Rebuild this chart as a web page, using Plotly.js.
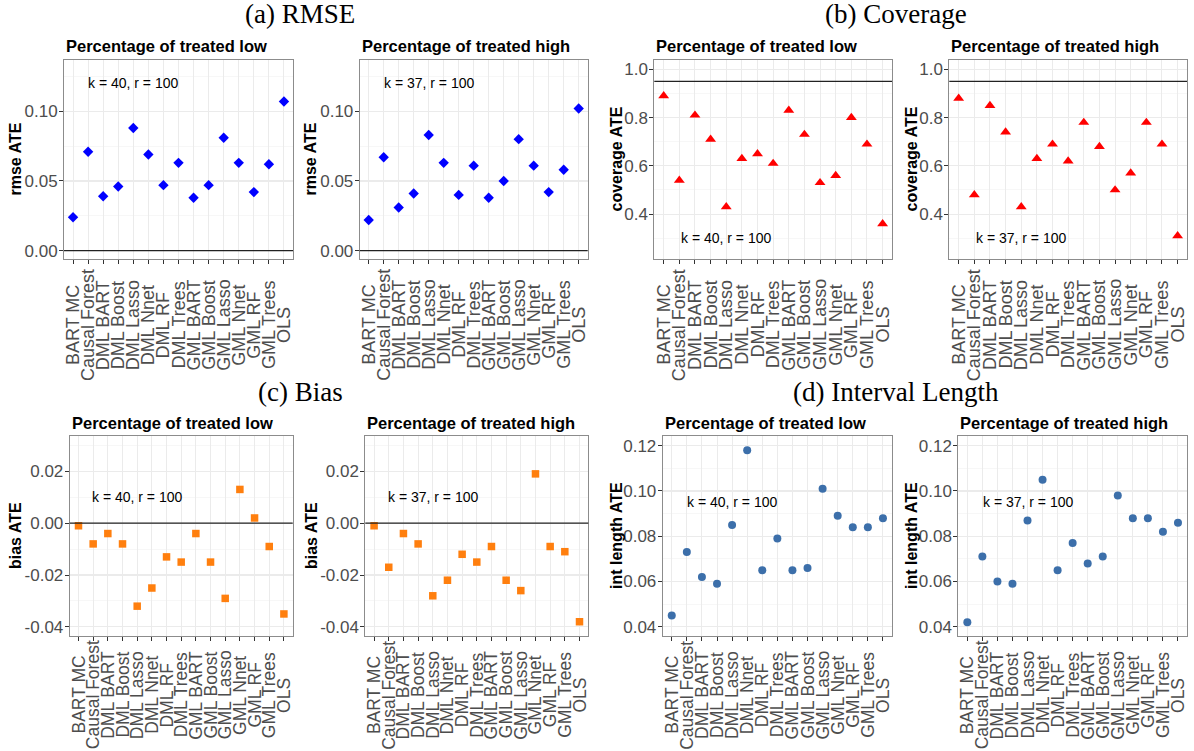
<!DOCTYPE html>
<html><head><meta charset="utf-8">
<script src="https://cdn.plot.ly/plotly-3.0.1.min.js"></script>
<style>html,body{margin:0;padding:0;background:#fff}#chart{width:1194px;height:751px}</style>
</head><body><div id="chart"></div>
<script>
// ---------------- data ----------------
const methods = ["BART MC","Causal Forest","DML BART","DML Boost","DML Lasso","DML Nnet","DML RF","DML Trees","GML BART","GML Boost","GML Lasso","GML Nnet","GML RF","GML Trees","OLS"];

const rmseLow      = [0.024,0.071,0.039,0.046,0.088,0.069,0.047,0.063,0.038,0.047,0.081,0.063,0.042,0.062,0.107];
const rmseHigh     = [0.022,0.067,0.031,0.041,0.083,0.063,0.040,0.061,0.038,0.050,0.080,0.061,0.042,0.058,0.102];
const coverageLow  = [0.89,0.54,0.81,0.71,0.43,0.63,0.65,0.61,0.83,0.73,0.53,0.56,0.80,0.69,0.36];
const coverageHigh = [0.88,0.48,0.85,0.74,0.43,0.63,0.69,0.62,0.78,0.68,0.50,0.57,0.78,0.69,0.31];
const biasLow      = [-0.001,-0.008,-0.004,-0.008,-0.032,-0.025,-0.013,-0.015,-0.004,-0.015,-0.029,0.013,0.002,-0.009,-0.035];
const biasHigh     = [-0.001,-0.017,-0.004,-0.008,-0.028,-0.022,-0.012,-0.015,-0.009,-0.022,-0.026,0.019,-0.009,-0.011,-0.038];
const intLenLow    = [0.045,0.073,0.062,0.059,0.085,0.118,0.065,0.079,0.065,0.066,0.101,0.089,0.084,0.084,0.088];
const intLenHigh   = [0.042,0.071,0.060,0.059,0.087,0.105,0.065,0.077,0.068,0.071,0.098,0.088,0.088,0.082,0.086];

const rmseTickVals = [0, 0.05, 0.10];
const rmseTickText = ["0.00","0.05","0.10"];
const rmseMinor    = [0.025, 0.075, 0.125];
const covTickVals  = [0.4, 0.6, 0.8, 1.0];
const covTickText  = ["0.4","0.6","0.8","1.0"];
const covMinor     = [0.3, 0.5, 0.7, 0.9];
const biasTickVals = [-0.04, -0.02, 0, 0.02];
const biasTickText = ["-0.04","-0.02","0.00","0.02"];
const biasMinor    = [-0.03, -0.01, 0.01, 0.03];
const intTickVals  = [0.04, 0.06, 0.08, 0.10, 0.12];
const intTickText  = ["0.04","0.06","0.08","0.10","0.12"];
const intMinor     = [0.05, 0.07, 0.09, 0.11];

const subTitles = ["Percentage of treated low","Percentage of treated high"];
const sectionTitles = ["(a) RMSE","(b) Coverage","(c) Bias","(d) Interval Length"];
const axisTitles = ["rmse ATE","coverage ATE","bias ATE","int length ATE"];
const kLow = "k = 40, r = 100";
const kHigh = "k = 37, r = 100";
const refLines = {rmse: 0, coverage: 0.95, bias: 0};

// ---------------- layout helpers ----------------
const W = 1194, H = 751;
const px = x => x / W;
const py = y => 1 - y / H;
const sans = "Liberation Sans, Arial, Helvetica, sans-serif";

const panels = [
  {vals: rmseLow,     box:[64,293,60,259],      lc:325, lf:18,   yr:[-0.006,0.1368], tv:rmseTickVals, tt:rmseTickText, mn:rmseMinor, at:axisTitles[0], atx:15,  sym:"diamond",     col:"#0000FF", sz:8,   lbl:kLow,  ly:0.12,  hl:refLines.rmse, st:subTitles[0]},
  {vals: rmseHigh,    box:[359.7,587.7,60,259], lc:325, lf:18,   yr:[-0.006,0.1368], tv:rmseTickVals, tt:rmseTickText, mn:rmseMinor, at:axisTitles[0], atx:310, sym:"diamond",     col:"#0000FF", sz:8,   lbl:kHigh, ly:0.12,  hl:refLines.rmse, st:subTitles[1]},
  {vals: coverageLow, box:[654.3,892,60,259],   lc:325, lf:18,   yr:[0.214,1.0386],  tv:covTickVals,  tt:covTickText,  mn:covMinor,  at:axisTitles[1], atx:616, sym:"triangle-up", col:"#FF0000", sz:9.5, lbl:kLow,  ly:0.3,   hl:refLines.coverage, st:subTitles[0]},
  {vals: coverageHigh,box:[949.3,1187,60,259],  lc:325, lf:18,   yr:[0.214,1.0386],  tv:covTickVals,  tt:covTickText,  mn:covMinor,  at:axisTitles[1], atx:911, sym:"triangle-up", col:"#FF0000", sz:9.5, lbl:kHigh, ly:0.3,   hl:refLines.coverage, st:subTitles[1]},
  {vals: biasLow,     box:[69.7,292.7,436,636], lc:695, lf:17.5, yr:[-0.0435,0.0336],tv:biasTickVals, tt:biasTickText, mn:biasMinor, at:axisTitles[2], atx:15,  sym:"square",      col:"#FF7F0E", sz:7.5, lbl:kLow,  ly:0.01,  hl:refLines.bias, st:subTitles[0]},
  {vals: biasHigh,    box:[365.3,588.3,436,636],lc:695, lf:17.5, yr:[-0.0435,0.0336],tv:biasTickVals, tt:biasTickText, mn:biasMinor, at:axisTitles[2], atx:311, sym:"square",      col:"#FF7F0E", sz:7.5, lbl:kHigh, ly:0.01,  hl:refLines.bias, st:subTitles[1]},
  {vals: intLenLow,   box:[662.7,892,436,636],  lc:695, lf:17.5, yr:[0.0359,0.1243], tv:intTickVals,  tt:intTickText,  mn:intMinor,  at:axisTitles[3], atx:616, sym:"circle",      col:"#3C6FAA", sz:8,   lbl:kLow,  ly:0.095, hl:null, st:subTitles[0]},
  {vals: intLenHigh,  box:[958.3,1187,436,636], lc:695, lf:17.5, yr:[0.0359,0.1243], tv:intTickVals,  tt:intTickText,  mn:intMinor,  at:axisTitles[3], atx:911, sym:"circle",      col:"#3C6FAA", sz:8,   lbl:kHigh, ly:0.095, hl:null, st:subTitles[1]}
];

const traces = [];
const layout = {
  width: W, height: H,
  margin: {l:0, r:0, t:0, b:0},
  paper_bgcolor: "#ffffff", plot_bgcolor: "#ffffff",
  showlegend: false, hovermode: false,
  font: {family: sans, color: "#000"},
  annotations: [], shapes: []
};

panels.forEach((p, i) => {
  const n = i + 1;
  const xa = "xaxis" + (n === 1 ? "" : n), ya = "yaxis" + (n === 1 ? "" : n);
  const xr = "x" + (n === 1 ? "" : n), yr = "y" + (n === 1 ? "" : n);
  const [x0, x1, y0, y1] = p.box;
  traces.push({
    type: "scatter", mode: "markers", x: methods, y: p.vals,
    xaxis: xr, yaxis: yr, cliponaxis: false,
    marker: {symbol: p.sym, color: p.col, size: p.sz, line: {width: 0}}
  });
  layout[xa] = {
    domain: [px(x0), px(x1)], anchor: yr, type: "category",
    categoryorder: "array", categoryarray: methods,
    tickmode: "array", tickvals: methods, showticklabels: false,
    range: [-0.6, methods.length - 0.4],
    showgrid: true, gridcolor: "#EBEBEB", gridwidth: 1,
    zeroline: false, showline: true, mirror: true, linecolor: "#8C8C8C", linewidth: 1,
    ticks: "outside", ticklen: 4, tickwidth: 1, tickcolor: "#333333",
    fixedrange: true
  };
  layout[ya] = {
    domain: [py(y1), py(y0)], anchor: xr, range: p.yr,
    tickmode: "array", tickvals: p.tv, ticktext: p.tt,
    showgrid: true, gridcolor: "#EBEBEB", gridwidth: 1.1,
    minor: {tickmode: "array", tickvals: p.mn, showgrid: true, gridcolor: "#F3F3F3", gridwidth: 0.7, ticks: ""},
    zeroline: false, showline: true, mirror: true, linecolor: "#8C8C8C", linewidth: 1,
    ticks: "outside", ticklen: 4, tickwidth: 1, tickcolor: "#333333",
    ticklabelstandoff: -2,
    tickfont: {family: sans, size: 17, color: "#4D4D4D"},
    fixedrange: true
  };
  if (p.hl !== null) {
    layout.shapes.push({type: "line", xref: xr + " domain", yref: yr, x0: 0, x1: 1, y0: p.hl, y1: p.hl,
      line: {color: "#222222", width: 1.4}});
  }
  // category labels, rotated and centred like the original
  methods.forEach(m => {
    layout.annotations.push({xref: xr, yref: "paper", x: m, y: py(p.lc), text: m, showarrow: false,
      textangle: -90, xanchor: "center", yanchor: "middle",
      font: {family: sans, size: p.lf, color: "#4D4D4D"}});
  });
  layout.annotations.push({xref: xr, yref: yr, x: methods[4], y: p.ly, text: p.lbl, showarrow: false,
    font: {family: sans, size: 14, color: "#000"}, xanchor: "center", yanchor: "middle"});
  layout.annotations.push({xref: "paper", yref: "paper", x: px(x0), y: py(y0 - 13.5), text: "<b>" + p.st + "</b>",
    showarrow: false, xanchor: "left", yanchor: "middle", font: {family: sans, size: 16.5, color: "#000"}});
  layout.annotations.push({xref: "paper", yref: "paper", x: px(p.atx), y: py((y0 + y1) / 2), text: "<b>" + p.at + "</b>",
    showarrow: false, textangle: -90, xanchor: "center", yanchor: "middle", font: {family: sans, size: 16, color: "#000"}});
});

const secPos = [[300, 14], [896, 14], [300, 392], [896, 392]];
sectionTitles.forEach((t, i) => {
  layout.annotations.push({xref: "paper", yref: "paper", x: px(secPos[i][0]), y: py(secPos[i][1]), text: t,
    showarrow: false, xanchor: "center", yanchor: "middle", font: {family: "Liberation Serif, Times New Roman, serif", size: 27, color: "#000"}});
});

Plotly.newPlot("chart", traces, layout, {displayModeBar: false, staticPlot: true});
</script>
</body></html>
